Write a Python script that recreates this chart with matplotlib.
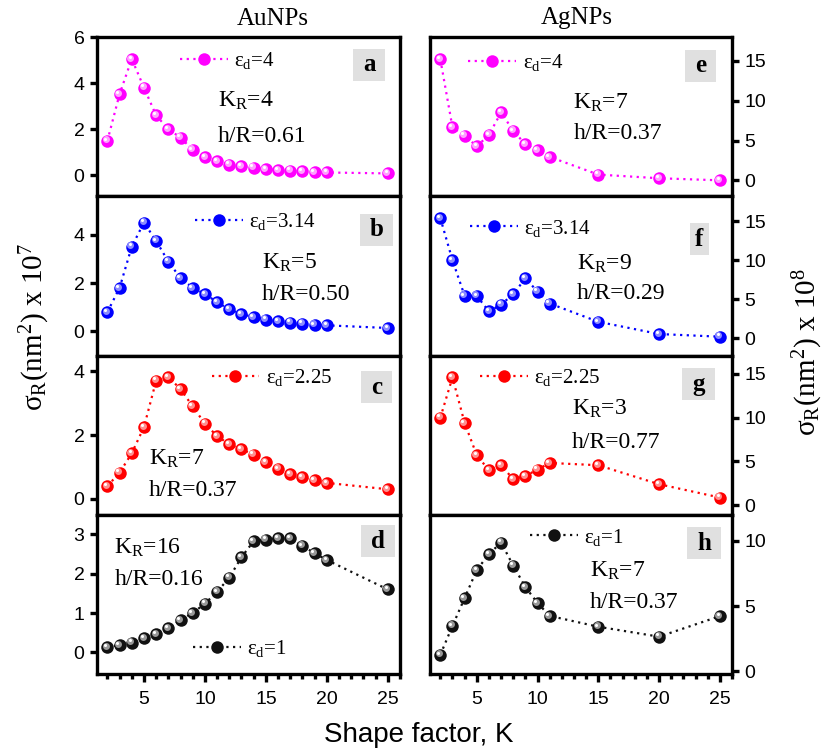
import matplotlib
matplotlib.use("Agg")
import matplotlib.pyplot as plt
from matplotlib.patches import Rectangle
from matplotlib.transforms import offset_copy

plt.rcParams["font.family"] = "Liberation Sans"
plt.rcParams["mathtext.default"] = "regular"

# --------------------------------------------------
# Data
# --------------------------------------------------
k_au = [2, 3, 4, 5, 6, 7, 8, 9, 10, 11, 12, 13, 14, 15, 16, 17, 18, 19, 20, 25]
k_ag = [2, 3, 4, 5, 6, 7, 8, 9, 10, 11, 15, 20, 25]

au_eps4 = [1.50, 3.52, 5.05, 3.81, 2.60, 2.01, 1.64, 1.11, 0.78, 0.63,
           0.47, 0.40, 0.34, 0.28, 0.23, 0.21, 0.18, 0.15, 0.13, 0.09]
au_eps314 = [0.80, 1.80, 3.51, 4.51, 3.75, 2.89, 2.21, 1.80, 1.55, 1.21,
             0.91, 0.71, 0.60, 0.49, 0.43, 0.36, 0.32, 0.27, 0.25, 0.14]
au_eps225 = [0.40, 0.82, 1.43, 2.25, 3.71, 3.82, 3.45, 2.90, 2.36, 1.97,
             1.71, 1.55, 1.39, 1.15, 0.94, 0.77, 0.67, 0.58, 0.50, 0.30]
au_eps1 = [0.13, 0.19, 0.25, 0.36, 0.46, 0.61, 0.82, 1.00, 1.24, 1.54,
           1.90, 2.42, 2.83, 2.87, 2.90, 2.90, 2.71, 2.52, 2.35, 1.60]

ag_eps4 = [15.2, 6.65, 5.62, 4.26, 5.71, 8.52, 6.22, 4.52, 3.79, 2.94, 0.72, 0.26, 0.0]
ag_eps314 = [15.4, 10.0, 5.44, 5.44, 3.44, 4.33, 5.65, 7.69, 5.99, 4.46, 2.12, 0.55, 0.21]
ag_eps225 = [9.99, 14.6, 9.38, 5.70, 3.99, 4.56, 2.96, 3.34, 4.06, 4.82, 4.56, 2.39, 0.87]
ag_eps1 = [1.27, 3.49, 5.62, 7.77, 8.99, 9.87, 8.10, 6.46, 5.24, 4.25, 3.42, 2.66, 4.23]

eps_labels = ["4", "3.14", "2.25", "1"]
au_kr = ["4", "5", "7", "16"]
au_hr = ["0.61", "0.50", "0.37", "0.16"]
ag_kr = ["7", "9", "3", "7"]
ag_hr = ["0.37", "0.29", "0.77", "0.37"]
letters_au = ["a", "b", "c", "d"]
letters_ag = ["e", "f", "g", "h"]

colors = ["#ff00ff", "#0000ff", "#ff0000", "#111111"]
lights = ["#ffa0ff", "#8c8cff", "#ff9090", "#999999"]

# --------------------------------------------------
# Layout (axes fractions)
# --------------------------------------------------
au_ylim = [(-0.9, 6), (-1.0, 5.6), (-0.5, 4.5), (-0.55, 3.5)]
ag_ylim = [(-2.0, 18.0), (-2.2, 18.2), (-1.1, 17.1), (-0.2, 12.0)]
au_ystep = [2, 2, 2, 1]
ag_ystep = [5, 5, 5, 5]

au_leg = [(0.274, 0.85), (0.323, 0.84), (0.378, 0.86), (0.316, 0.16)]
ag_leg = [(0.127, 0.84), (0.132, 0.80), (0.166, 0.86), (0.331, 0.86)]
au_txt = [(0.40, 0.60, 0.376), (0.543, 0.58, 0.383), (0.172, 0.35, 0.154), (0.057, 0.795, 0.594)]
ag_txt = [(0.475, 0.586, 0.395), (0.486, 0.575, 0.388), (0.469, 0.664, 0.456), (0.53, 0.646, 0.449)]
au_box = [(0.899, 0.825, 32), (0.923, 0.79, 33), (0.922, 0.80, 31), (0.927, 0.834, 34)]
ag_box = [(0.895, 0.82, 31), (0.892, 0.73, 19), (0.889, 0.82, 33), (0.907, 0.82, 34)]

W, H = 830, 756
fig = plt.figure(figsize=(W / 100, H / 100), dpi=100)

row_h = 159.25 / H
bottom0 = 1 - 674 / H


def balls(ax, x, y, color, light):
    ln, = ax.plot(x, y, ls=(0, (1, 2)), lw=1.6, color=color, marker="o", ms=9,
                  mfc=color, mec=color, mew=0, zorder=3)
    tr1 = offset_copy(ax.transData, fig=fig, x=-1.0, y=1.0, units="points")
    ax.plot(x, y, ls="none", marker="o", ms=5, mfc=light, mew=0, transform=tr1, zorder=4)
    tr2 = offset_copy(ax.transData, fig=fig, x=-1.6, y=1.6, units="points")
    ax.plot(x, y, ls="none", marker="o", ms=2.2, mfc="white", mew=0, transform=tr2, zorder=5)
    return ln


def panel(ax, x, y, i, ylim, step, leg, txt, box, kr, hr, letter, right):
    ln = balls(ax, x, y, colors[i], lights[i])
    ax.set_xlim(1.15, 26)
    ax.set_ylim(*ylim)
    ax.set_yticks(range(0, int(ylim[1]) + 1, step))
    for s in ax.spines.values():
        s.set_linewidth(2.4)
    ax.tick_params(axis="y", direction="out", length=5, width=2.4, labelsize=14,
                   pad=4)
    if right:
        ax.yaxis.tick_right()
    if i == 3:
        ax.set_xticks([5, 10, 15, 20, 25])
        ax.set_xticks(range(2, 27), minor=True)
        ax.tick_params(axis="x", which="major", direction="out", length=6, width=2.4,
                       labelsize=14, pad=6)
        ax.tick_params(axis="x", which="minor", direction="out", length=3.5, width=2.4)
    else:
        ax.set_xticks([])
    ax.legend([ln], ["ε$_d$=" + eps_labels[i]], loc="center left",
              bbox_to_anchor=leg, frameon=False, borderpad=0, borderaxespad=0,
              handlelength=2.3, handletextpad=0.3,
              prop={"family": "Liberation Serif", "size": 15})
    ax.text(txt[0], txt[1], "K$_R$=" + kr, transform=ax.transAxes, ha="left",
            va="center", family="Liberation Serif", size=17)
    ax.text(txt[0], txt[2], "h/R=" + hr, transform=ax.transAxes, ha="left",
            va="center", family="Liberation Serif", size=17)
    bw = box[2] / (ax.get_position().width * W)
    bh = 32 / (ax.get_position().height * H)
    ax.add_patch(Rectangle((box[0] - bw / 2, box[1] - bh / 2), bw, bh,
                           transform=ax.transAxes, facecolor="#e0e0e0",
                           edgecolor="none", zorder=2))
    ax.text(box[0], box[1], letter, transform=ax.transAxes, ha="center",
            va="center", family="Liberation Serif", weight="bold", size=18, zorder=6)


au_data = [au_eps4, au_eps314, au_eps225, au_eps1]
ag_data = [ag_eps4, ag_eps314, ag_eps225, ag_eps1]

for i in range(4):
    b = bottom0 + (3 - i) * row_h
    ax_l = fig.add_axes([97 / W, b, 303 / W, row_h])
    panel(ax_l, k_au, au_data[i], i, au_ylim[i], au_ystep[i], au_leg[i], au_txt[i],
          au_box[i], au_kr[i], au_hr[i], letters_au[i], False)
    ax_r = fig.add_axes([430 / W, b, 302 / W, row_h])
    panel(ax_r, k_ag, ag_data[i], i, ag_ylim[i], ag_ystep[i], ag_leg[i], ag_txt[i],
          ag_box[i], ag_kr[i], ag_hr[i], letters_ag[i], True)

fig.text(273 / W, 1 - 19 / H, "AuNPs", ha="center", va="center",
         family="Liberation Serif", size=18)
fig.text(577 / W, 1 - 18 / H, "AgNPs", ha="center", va="center",
         family="Liberation Serif", size=18)
fig.text(35 / W, 1 - 327 / H, "σ$_R$(nm$^2$) x 10$^7$", rotation=90, ha="center",
         va="center", family="Liberation Serif", size=21)
fig.text(808 / W, 1 - 352 / H, "σ$_R$(nm$^2$) x 10$^8$", rotation=90, ha="center",
         va="center", family="Liberation Serif", size=21)
fig.text(419 / W, 1 - 735 / H, "Shape factor, K", ha="center", va="center", size=20)

plt.savefig("out.png", dpi=100)
